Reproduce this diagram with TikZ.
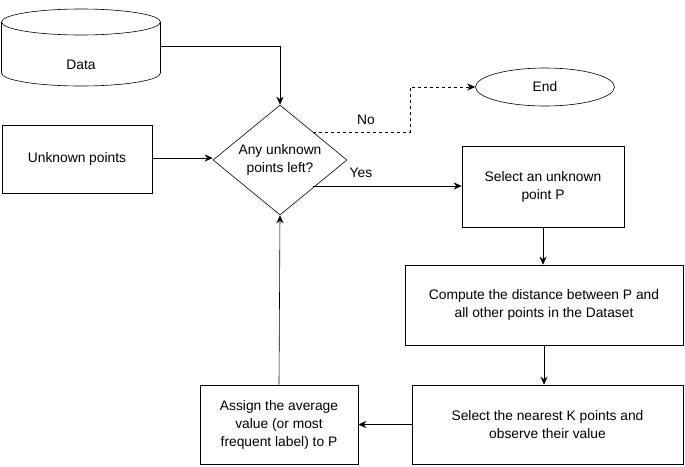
\documentclass[tikz,border=0pt]{standalone}
\usepackage{fontspec}
\setmainfont{Liberation Sans}
\usetikzlibrary{shapes.geometric,arrows.meta}
\tikzset{
    stepbox/.style={draw=black,align=center,font=\fontsize{13.8}{18}\selectfont},
    lbl/.style={font=\fontsize{13.8}{18}\selectfont},
    flow/.style={-{Stealth[length=8pt,width=7pt]},semithick}
}
\begin{document}
\begin{tikzpicture}[x=1pt,y=-1pt,semithick]
    \useasboundingbox (0,0) rectangle (685,466);
    % data store
    \draw (1.5,22) arc[start angle=180,end angle=360,x radius=79.5pt,y radius=13pt]
        arc[start angle=0,end angle=180,x radius=79.5pt,y radius=13pt]
        -- (1.5,73) arc[start angle=180,end angle=360,x radius=79.5pt,y radius=13pt] -- (160.5,22);
    \node[lbl,minimum width=159pt,minimum height=50pt] (data) at (81,65) {Data};
    \node[stepbox,minimum width=150pt,minimum height=68pt] (unk) at (77,159) {Unknown points};
    \node[stepbox,shape=diamond,minimum width=134pt,minimum height=110pt,inner sep=0pt,aspect=1.22] (q) at (280,160) {Any unknown\\points left?};
    \node[stepbox,shape=ellipse,minimum width=139pt,minimum height=38pt] (end) at (545,87) {End};
    \node[stepbox,minimum width=162pt,minimum height=81pt] (sel) at (543,187) {Select an unknown\\point P};
    \node[stepbox,minimum width=278pt,minimum height=80pt] (comp) at (544,305) {Compute the distance between P and\\all other points in the Dataset};
    \node[stepbox,minimum width=271pt,minimum height=79pt] (near) at (547.5,424.5) {Select the nearest K points and\\observe their value};
    \node[stepbox,minimum width=158pt,minimum height=79pt] (assign) at (279,424.5) {Assign the average\\value (or most\\frequent label) to P};
    \coordinate (qno) at (313,132);
    \coordinate (qyes) at (313,186);
    \draw[flow] (160.5,46) -| (q.north);
    \draw[flow] (unk.east |- 0,158) -- (q.west |- 0,158);
    \draw[flow,dashed] (qno) -- (410,132) |- (end.west);
    \node[lbl] at (366,120) {No};
    \draw[flow] (qyes) -- (sel.west |- qyes);
    \node[lbl] at (361,173) {Yes};
    \draw[flow] (sel.south) -- (comp.north -| sel.south);
    \draw[flow] (comp.south) -- (near.north -| comp.south);
    \draw[flow] (near.west) -- (assign.east);
    \draw[flow] (assign.north) -- (q.south);
\end{tikzpicture}
\end{document}
